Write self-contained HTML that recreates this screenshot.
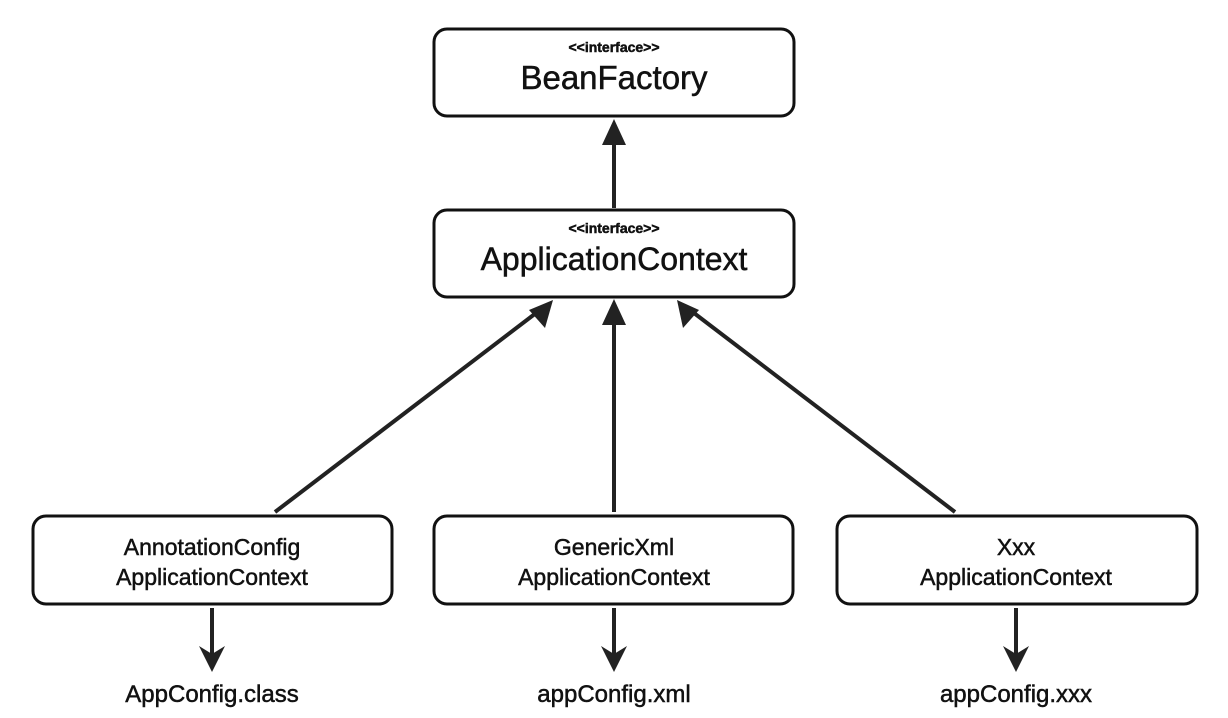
<!DOCTYPE html>
<html><head><style>
html,body{margin:0;padding:0;background:#fff;}
svg{display:block;}
text{font-family:"Liberation Sans",sans-serif;fill:#111;text-anchor:middle;stroke:#111;stroke-width:0.5;}
</style></head><body>
<svg width="1228" height="718" viewBox="0 0 1228 718" xmlns="http://www.w3.org/2000/svg">
<g fill="none" stroke="#111" stroke-width="3">
<rect x="434" y="29" width="360" height="87" rx="13"/>
<rect x="434" y="210" width="360" height="87" rx="13"/>
<rect x="33" y="516" width="359" height="88" rx="13"/>
<rect x="434" y="516" width="359" height="88" rx="13"/>
<rect x="837" y="516" width="360" height="88" rx="13"/>
</g>
<g stroke="#222" stroke-width="4" fill="none">
<line x1="614" y1="208" x2="614" y2="135"/>
<line x1="275" y1="512" x2="540" y2="310"/>
<line x1="614" y1="512" x2="614" y2="315"/>
<line x1="955" y1="512" x2="690" y2="310"/>
<line x1="212" y1="608" x2="212" y2="655"/>
<line x1="614" y1="608" x2="614" y2="655"/>
<line x1="1016" y1="608" x2="1016" y2="655"/>
</g>
<g fill="#222">
<polygon points="614,119 602,145 626,145"/>
<polygon points="614,299 602,325 626,325"/>
<polygon points="553,300 529,310 545,328"/>
<polygon points="677,300 683,328 699,310"/>
<polygon points="212,672 199,646 212,654 225,646"/>
<polygon points="614,672 601,646 614,654 627,646"/>
<polygon points="1016,672 1003,646 1016,654 1029,646"/>
</g>
<text x="614" y="52" font-size="14" font-weight="bold" stroke-width="0">&lt;&lt;interface&gt;&gt;</text>
<text x="614" y="89" font-size="33">BeanFactory</text>
<text x="614" y="233" font-size="14" font-weight="bold" stroke-width="0">&lt;&lt;interface&gt;&gt;</text>
<text x="614" y="270" font-size="32">ApplicationContext</text>
<text x="212" y="555" font-size="23">AnnotationConfig</text>
<text x="212" y="585" font-size="23">ApplicationContext</text>
<text x="614" y="555" font-size="23">GenericXml</text>
<text x="614" y="585" font-size="23">ApplicationContext</text>
<text x="1016" y="555" font-size="23">Xxx</text>
<text x="1016" y="585" font-size="23">ApplicationContext</text>
<text x="212" y="702" font-size="24" stroke-width="0.2">AppConfig.class</text>
<text x="614" y="702" font-size="24" stroke-width="0.2">appConfig.xml</text>
<text x="1016" y="702" font-size="24" stroke-width="0.2">appConfig.xxx</text>
</svg>
</body></html>
